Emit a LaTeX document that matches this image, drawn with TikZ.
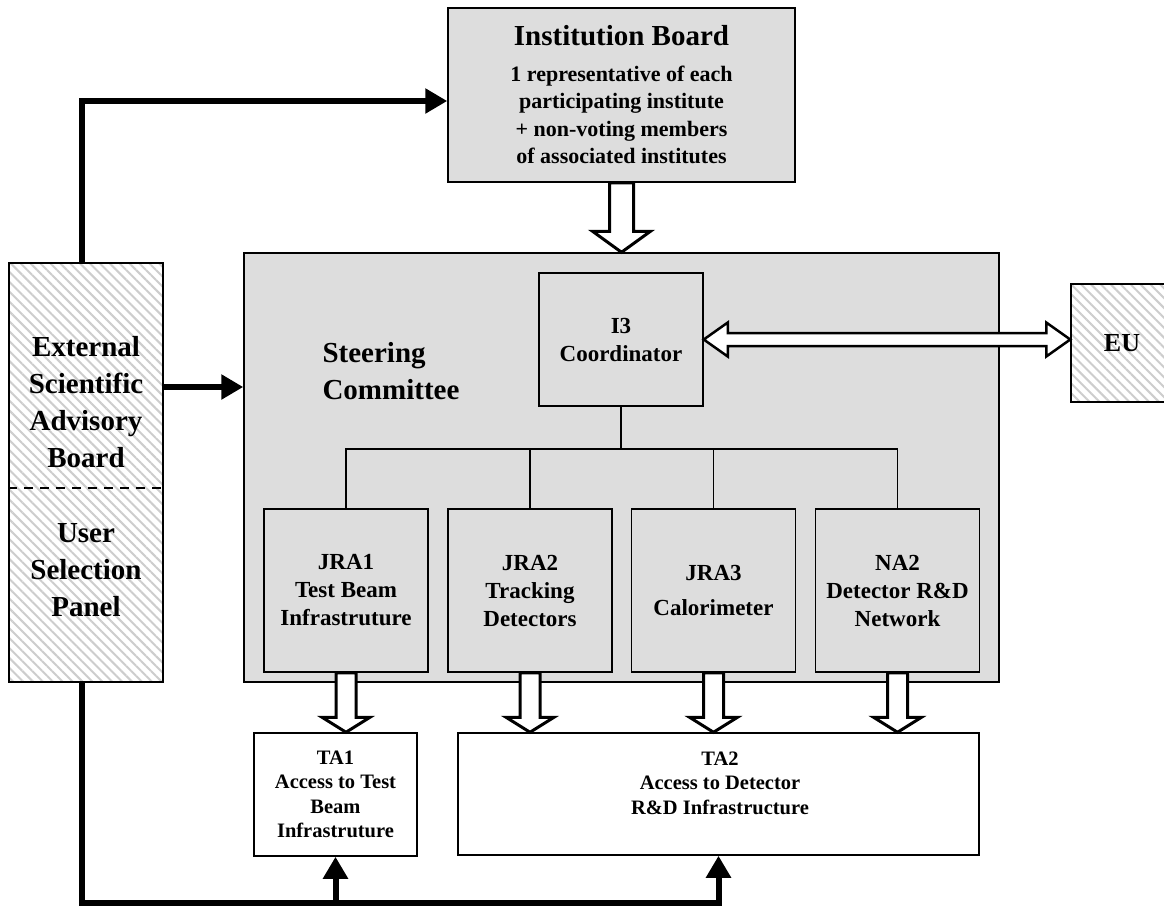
\documentclass[tikz,border=0pt]{standalone}
\usepackage{fontspec}
\setmainfont{Liberation Serif}
\usetikzlibrary{arrows.meta,calc,patterns.meta}
\definecolor{boxgray}{RGB}{221,221,221}
\definecolor{hatchgray}{RGB}{205,205,205}

\begin{document}
\begin{tikzpicture}[x=1pt,y=-1pt]
\tikzset{box/.style={draw,line width=1.5pt,fill=boxgray,inner sep=0pt,align=center}}
\tikzset{plainbox/.style={draw,line width=1.5pt,fill=white,inner sep=0pt,align=center}}
\tikzset{hatched/.style={draw,line width=1.5pt,inner sep=0pt,align=center,preaction={fill=white},
pattern={Lines[angle=-45,distance=7pt,line width=2pt]},pattern color=hatchgray}}
\tikzset{bigtext/.style={font=\fontsize{29}{37}\selectfont\bfseries,align=center}}
\tikzset{midtext/.style={font=\fontsize{23}{28}\selectfont\bfseries}}
\tikzset{tatext/.style={font=\fontsize{20.5}{24.5}\selectfont\bfseries,align=center}}
\tikzset{bodytext/.style={font=\fontsize{22}{27.5}\selectfont\bfseries}}
\tikzset{tree/.style={line width=1.5pt}}
\tikzset{thickarrow/.style={line width=6pt,line join=miter,-{Triangle[length=22pt,width=24pt]}}}
\tikzset{hollow/.style n args={3}{line width=3pt,line join=miter,fill=white,
to path={($(\tikztostart)!#1!90:(\tikztotarget)$)
-- ($(\tikztotarget)!#3!(\tikztostart)!#1!90:(\tikztotarget)$)
-- ($(\tikztotarget)!#3!(\tikztostart)!#2!90:(\tikztotarget)$)
-- (\tikztotarget)
-- ($(\tikztotarget)!#3!(\tikztostart)!#2!-90:(\tikztotarget)$)
-- ($(\tikztotarget)!#3!(\tikztostart)!#1!-90:(\tikztotarget)$)
-- ($(\tikztostart)!#1!-90:(\tikztotarget)$) -- cycle}}}
\tikzset{hollowboth/.style n args={3}{line width=2.5pt,line join=miter,fill=white,
to path={(\tikztostart)
-- ($(\tikztostart)!#3!(\tikztotarget)!#2!90:(\tikztotarget)$)
-- ($(\tikztostart)!#3!(\tikztotarget)!#1!90:(\tikztotarget)$)
-- ($(\tikztotarget)!#3!(\tikztostart)!#1!90:(\tikztotarget)$)
-- ($(\tikztotarget)!#3!(\tikztostart)!#2!90:(\tikztotarget)$)
-- (\tikztotarget)
-- ($(\tikztotarget)!#3!(\tikztostart)!#2!-90:(\tikztotarget)$)
-- ($(\tikztotarget)!#3!(\tikztostart)!#1!-90:(\tikztotarget)$)
-- ($(\tikztostart)!#3!(\tikztotarget)!#1!-90:(\tikztotarget)$)
-- ($(\tikztostart)!#3!(\tikztotarget)!#2!-90:(\tikztotarget)$) -- cycle}}}
\clip (0,0) rectangle (1164,906);

\node[hatched,minimum width=154pt,minimum height=419pt] (esab) at (86,472.5) {};
\node[bigtext] (esabtext) at (86,402) {External\\Scientific\\Advisory\\Board};
\node[bigtext] (usp) at (86,570) {User\\Selection\\Panel};
\coordinate (split) at (0,488);
\draw[dash pattern=on 9pt off 7pt,line width=1.2pt] (esab.west |- split) -- (esab.east |- split);

\node[box,bodytext,minimum width=347pt,minimum height=174pt] (ib) at (621.5,95)
{{\fontsize{29}{29}\selectfont Institution Board}\\[8pt]1 representative of each\\participating institute\\+ non-voting members\\of associated institutes};

\node[box,minimum width=755pt,minimum height=429pt] (sc) at (621.5,467.5) {};
\node[bigtext,anchor=west,align=left] (sclabel) at (319,371) {Steering\\Committee};
\node[box,midtext,minimum width=164pt,minimum height=133pt] (i3) at (621,339.5) {I3\\Coordinator};
\node[box,midtext,minimum width=164pt,minimum height=163pt] (jra1) at (346,590.5) {JRA1\\Test Beam\\Infrastruture};
\node[box,midtext,minimum width=164pt,minimum height=163pt] (jra2) at (530,590.5) {JRA2\\Tracking\\Detectors};
\node[box,midtext,minimum width=164pt,minimum height=163pt] (jra3) at (713.5,590.5) {JRA3\\[7pt]Calorimeter};
\node[box,midtext,minimum width=164pt,minimum height=163pt] (na2) at (897.5,590.5) {NA2\\Detector R\&D\\Network};

\node[hatched,font=\fontsize{26}{26}\selectfont\bfseries,minimum width=102pt,minimum height=118pt] (eu) at (1122,343) {EU};

\node[plainbox,tatext,minimum width=163pt,minimum height=123pt] (ta1) at (335.5,794.5) {TA1\\Access to Test\\Beam\\Infrastruture};
\node[plainbox,minimum width=521pt,minimum height=122pt] (ta2) at (718.5,794) {};
\node[tatext] (ta2text) at (720,783) {TA2\\Access to Detector\\R\&D Infrastructure};

\coordinate (bus) at (0,449);
\draw[tree] (i3.south) -- (i3.south |- bus);
\draw[tree] (jra1.north) |- (bus -| na2.north) -- (na2.north);
\draw[tree] (jra2.north) -- (jra2.north |- bus);
\draw[tree] (jra3.north) -- (jra3.north |- bus);

\coordinate (t1) at (jra1.south |- ta1.north);
\coordinate (t2) at (jra2.south |- ta2.north);
\coordinate (t3) at (jra3.south |- ta2.north);
\coordinate (t4) at (na2.south |- ta2.north);
\coordinate (euin) at (eu.west |- i3.east);
\draw[hollow={12pt}{29pt}{21pt}] (ib.south) to (sc.north);
\draw[hollow={10pt}{24pt}{15pt}] (jra1.south) to (t1);
\draw[hollow={10pt}{24pt}{15pt}] (jra2.south) to (t2);
\draw[hollow={10pt}{24pt}{15pt}] (jra3.south) to (t3);
\draw[hollow={10pt}{24pt}{15pt}] (na2.south) to (t4);
\draw[hollowboth={6.5pt}{17pt}{24pt}] (i3.east) to (euin);

\coordinate (topturn) at (82,101);
\coordinate (botturn) at (82,903);
\coordinate (adv) at (0,387);
\draw[thickarrow] (esab.north -| topturn) -- (topturn) -- (ib.west |- topturn);
\draw[thickarrow] (esab.east |- adv) -- (sc.west |- adv);
\draw[thickarrow] (esab.south -| botturn) -- (botturn) -- (ta2.south |- botturn) -- (ta2.south);
\draw[thickarrow] (ta1.south |- botturn) -- (ta1.south);
\end{tikzpicture}
\end{document}
